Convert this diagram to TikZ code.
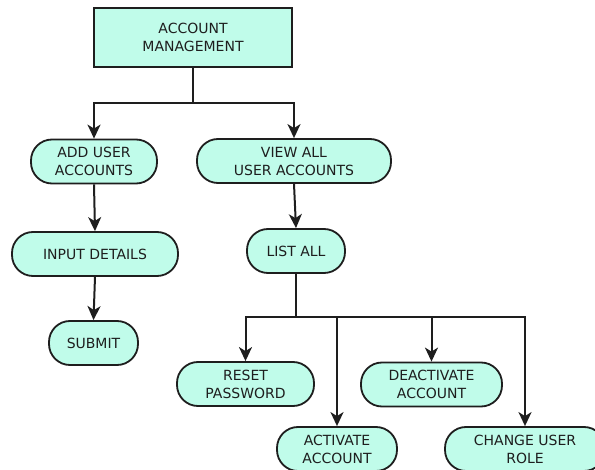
\documentclass[tikz,border=0pt]{standalone}
\usepackage{fontspec}
\setmainfont{DejaVu Sans}
\usetikzlibrary{arrows.meta}
\definecolor{boxfill}{RGB}{192,252,234}
\definecolor{inkline}{RGB}{30,30,30}
\begin{document}
\begin{tikzpicture}[x=1pt,y=-1pt,
  base/.style={draw=inkline, line width=1.8pt, fill=boxfill, align=center,
    inner sep=0pt, font=\fontsize{14}{18}\selectfont, text=inkline},
  headbox/.style={base, rectangle, minimum width=198pt, minimum height=59pt},
  pill/.style={base, rectangle, rounded corners=21pt, minimum height=44pt},
  link/.style={draw=inkline, line width=2pt},
  arr/.style={link, -{Stealth[length=14pt,width=13pt,inset=4pt]}}]
\useasboundingbox (0,0) rectangle (595,470);
\clip (0,0) rectangle (595,470);

% nodes
\node[headbox] (acct) at (193,37.5) {ACCOUNT\\MANAGEMENT};
\node[pill, minimum width=126pt] (add) at (94,161.5) {ADD USER\\ACCOUNTS};
\node[pill, minimum width=194pt] (view) at (294,161) {VIEW ALL\\USER ACCOUNTS};
\node[pill, minimum width=166pt] (input) at (95,254) {INPUT DETAILS};
\node[pill, minimum width=89pt] (submit) at (93.5,343) {SUBMIT};
\node[pill, minimum width=98pt] (list) at (296,251) {LIST ALL};
\node[pill, minimum width=137pt] (reset) at (245.5,384) {RESET\\PASSWORD};
\node[pill, minimum width=141pt] (deact) at (431.5,384.5) {DEACTIVATE\\ACCOUNT};
\node[pill, minimum width=120pt] (act) at (337,449) {ACTIVATE\\ACCOUNT};
\node[pill, minimum width=160pt] (role) at (525,449) {CHANGE USER\\ROLE};

% junction points
\coordinate (topbar) at (193,103);
\coordinate (listbar) at (296,317);

% top level split
\draw[link] (acct.south) -- (topbar);
\draw[arr] (topbar) -| (add.north);
\draw[arr] (topbar) -| (view.north);

% add-user branch
\draw[arr] (add.south) -- (input.north);
\draw[arr] (input.south) -- (submit.north);

% view-all branch
\draw[arr] (view.south) -- (list.north);
\draw[link] (list.south) -- (listbar);
\draw[arr] (listbar) -| (reset.north);
\draw[arr] (listbar) -| (act.north);
\draw[arr] (listbar) -| (deact.north);
\draw[arr] (listbar) -| (role.north);
\end{tikzpicture}
\end{document}
